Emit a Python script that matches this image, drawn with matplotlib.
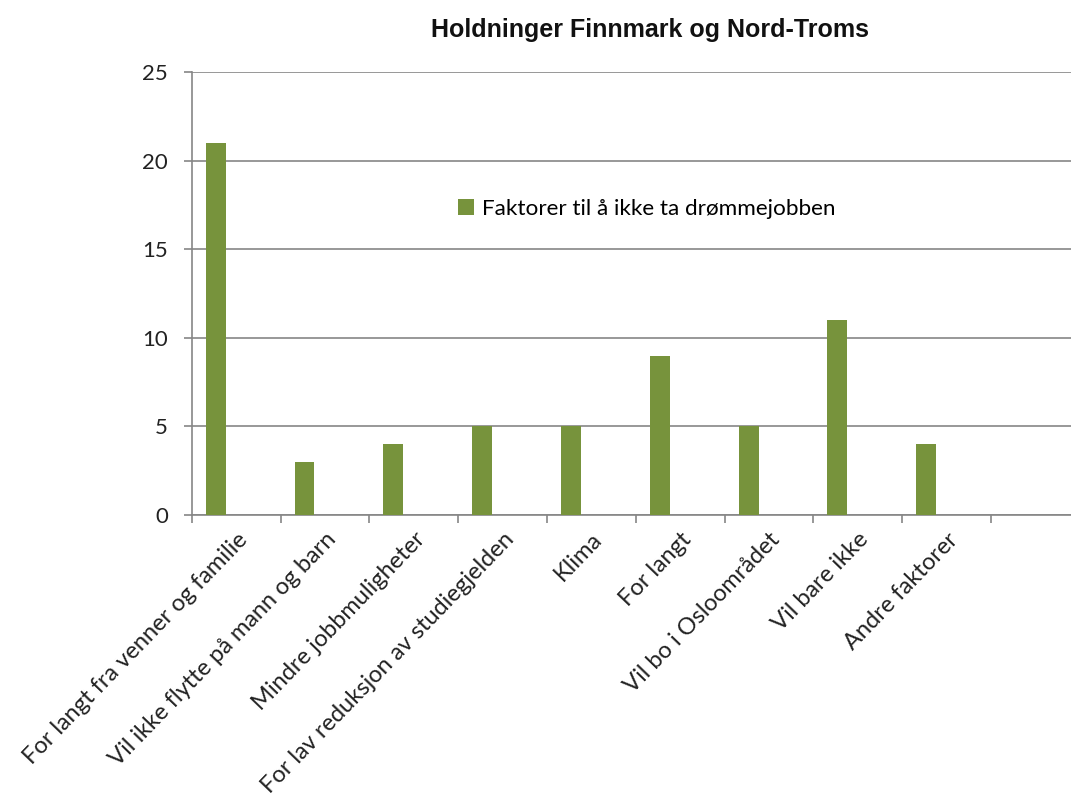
import numpy as np
import matplotlib.pyplot as plt

categories = ["For langt fra venner og familie", "Vil ikke flytte på mann og barn",
              "Mindre jobbmuligheter", "For lav reduksjon av studiegjelden",
              "Klima", "For langt", "Vil bo i Osloområdet", "Vil bare ikke",
              "Andre faktorer", ""]
values = [21, 3, 4, 5, 5, 9, 5, 11, 4, 0]
series_name = "Faktorer til å ikke ta drømmejobben"
title = "Holdninger Finnmark og Nord-Troms"

bar_color = "#77933C"
grid_color = "#868686"

fig = plt.figure(figsize=(10.71, 8.02), dpi=100)
ax = fig.add_axes([0.179, 0.358, 0.821, 0.552])

x = np.arange(len(categories))
ax.bar(x - 0.23, values, width=0.225, color=bar_color, label=series_name, zorder=3)

ax.set_xlim(-0.5, 9.4)
ax.set_ylim(0, 25)
ax.set_yticks([0, 5, 10, 15, 20, 25])
ax.yaxis.grid(True, color=grid_color, linewidth=1.2, zorder=0)

for s in ["top", "right"]:
    ax.spines[s].set_visible(False)
for s in ["left", "bottom"]:
    ax.spines[s].set_color(grid_color)
    ax.spines[s].set_linewidth(1.2)

ax.set_xticks(x)
ax.set_xticklabels(categories, rotation=46, ha="right", rotation_mode="anchor",
                   fontsize=17, family="Lato", color="#222222")
ax.tick_params(axis="x", length=0, pad=10)
ax.set_xticks(np.arange(-0.5, 9.5, 1), minor=True)
ax.tick_params(axis="x", which="minor", length=6, color=grid_color, width=1.2)
ax.tick_params(axis="y", length=6, color=grid_color, width=1.2, labelsize=16, pad=11,
               labelcolor="#222222")
for lab in ax.get_yticklabels():
    lab.set_family("Lato")

leg = ax.legend(loc="upper left", bbox_to_anchor=(0.28, 0.76), frameon=False,
                prop={"family": "Lato", "size": 16.2}, handlelength=0.7, handleheight=0.7,
                handletextpad=0.35)

fig.text(0.607, 0.962, title, ha="center", va="center", fontsize=18,
         fontweight="bold", family="Liberation Sans", color="#111111")

fig.savefig("out.png", dpi=100, facecolor="white")
